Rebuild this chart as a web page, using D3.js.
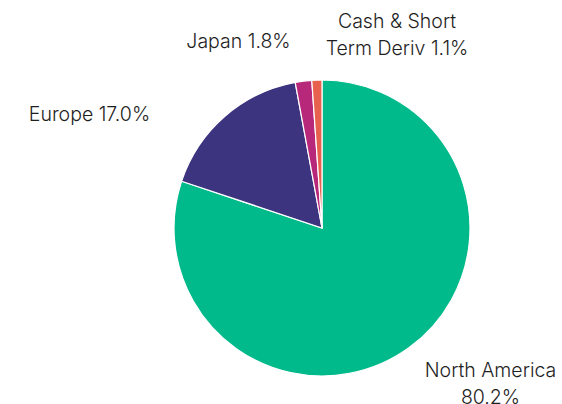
<!DOCTYPE html>
<html><head><meta charset="utf-8">
<script src="https://cdn.jsdelivr.net/npm/d3@7"></script>
<style>html,body{margin:0;padding:0;background:#fff;}svg{display:block;}</style>
</head><body>
<svg id="c" width="562" height="404"></svg>
<script>
const categories = ["North America", "Europe", "Japan", "Cash & Short Term Deriv"];
const values = [80.2, 17.0, 1.8, 1.1];
const labelLines = [["North America", "80.2%"], ["Europe 17.0%"], ["Japan 1.8%"], ["Cash & Short", "Term Deriv 1.1%"]];
const colors = ["#00BA8B", "#3D3480", "#B8287A", "#E8614E"];

const W = 562, H = 404, cx = 322, cy = 228, R = 148;
// label anchor offsets relative to pie centre (layout only)
const labelPos = [[168.5, 149], [-232.5, -107], [-83.5, -180], [75, -200]];

const svg = d3.select("#c");
const g = svg.append("g").attr("transform", `translate(${cx},${cy})`);
const pie = d3.pie().sort(null).value(d => d)(values);
const arc = d3.arc().innerRadius(0).outerRadius(R);
g.selectAll("path").data(pie).join("path")
  .attr("d", arc).attr("fill", (d, i) => colors[i])
  .attr("stroke", "#fff").attr("stroke-width", 1.2);

const lab = g.selectAll("text.lab").data(pie).join("text").attr("class", "lab")
  .attr("text-anchor", "middle")
  .attr("font-family", "Inter, 'Open Sans', sans-serif")
  .attr("font-weight", 300)
  .attr("font-size", 19.5)
  .attr("fill", "#1e1e1e")
  .attr("transform", (d, i) => `translate(${labelPos[i][0]},${labelPos[i][1]})`);
lab.each(function(d, i) {
  const t = d3.select(this);
  labelLines[i].forEach((l, j) => t.append("tspan").attr("x", 0).attr("y", j * 26.5).text(l));
});
</script>
</body></html>
